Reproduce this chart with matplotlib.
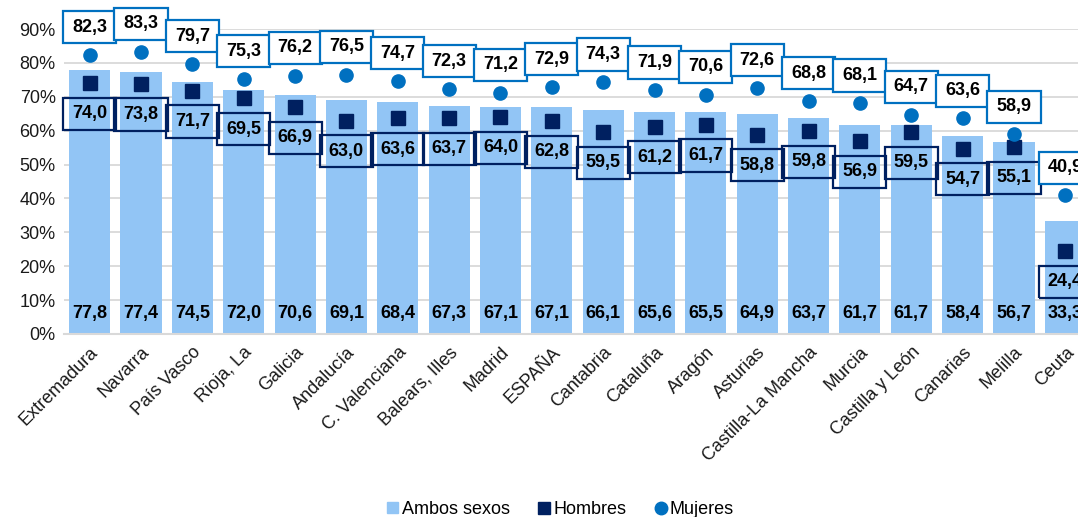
import matplotlib
matplotlib.use("Agg")
import matplotlib.pyplot as plt
from matplotlib.lines import Line2D
from matplotlib.patches import Patch
from matplotlib.path import Path
from matplotlib.ticker import FuncFormatter

plt.rcParams['font.family'] = ['Liberation Sans', 'DejaVu Sans']

categories = ["Extremadura", "Navarra", "País Vasco", "Rioja, La", "Galicia", "Andalucía",
              "C. Valenciana", "Balears, Illes", "Madrid", "ESPAÑA", "Cantabria", "Cataluña",
              "Aragón", "Asturias", "Castilla-La Mancha", "Murcia", "Castilla y León",
              "Canarias", "Melilla", "Ceuta"]
ambos = [77.8, 77.4, 74.5, 72.0, 70.6, 69.1, 68.4, 67.3, 67.1, 67.1, 66.1, 65.6, 65.5, 64.9,
         63.7, 61.7, 61.7, 58.4, 56.7, 33.3]
hombres = [74.0, 73.8, 71.7, 69.5, 66.9, 63.0, 63.6, 63.7, 64.0, 62.8, 59.5, 61.2, 61.7, 58.8,
           59.8, 56.9, 59.5, 54.7, 55.1, 24.4]
mujeres = [82.3, 83.3, 79.7, 75.3, 76.2, 76.5, 74.7, 72.3, 71.2, 72.9, 74.3, 71.9, 70.6, 72.6,
           68.8, 68.1, 64.7, 63.6, 58.9, 40.9]
yticks = [0, 10, 20, 30, 40, 50, 60, 70, 80, 90]

c_bar = "#92C5F5"
c_h = "#002060"
c_m = "#0070C0"


def wide_box(x0, y0, width, height, mutation_size):
    px = 0.50 * mutation_size
    py = 0.42 * mutation_size
    x0, y0 = x0 - px, y0 - py
    x1, y1 = x0 + width + 2 * px, y0 + height + 2 * py
    return Path([(x0, y0), (x1, y0), (x1, y1), (x0, y1), (x0, y0)], closed=True)


fig = plt.figure(figsize=(10.78, 5.17), dpi=100)
ax = fig.add_axes([64/1078, 1-334/517, 1027/1078, 305/517])
x = list(range(len(categories)))

ax.bar(x, ambos, width=0.8, color=c_bar, zorder=2)
ax.plot(x, hombres, linestyle="none", marker="s", ms=9.5, color=c_h, zorder=3)
ax.plot(x, mujeres, linestyle="none", marker="o", ms=9.5, color=c_m, zorder=3)

fmt = lambda v: f"{v:.1f}".replace(".", ",")
for i in x:
    ax.annotate(fmt(ambos[i]), (i, 0), xytext=(0, 14.5), textcoords="offset points",
                ha="center", va="center", fontsize=13, fontweight="bold", color="black",
                zorder=5, annotation_clip=False)
    ax.annotate(fmt(hombres[i]), (i, hombres[i]), xytext=(0, -22), textcoords="offset points",
                ha="center", va="center", fontsize=13, fontweight="bold", color="black",
                bbox=dict(boxstyle=wide_box, fc="none", ec=c_h, lw=1.6),
                zorder=5, annotation_clip=False)
    ax.annotate(fmt(mujeres[i]), (i, mujeres[i]), xytext=(0, 20), textcoords="offset points",
                ha="center", va="center", fontsize=13, fontweight="bold", color="black",
                bbox=dict(boxstyle=wide_box, fc="white", ec=c_m, lw=1.6),
                zorder=5, annotation_clip=False)

ax.set_xlim(-0.5, len(categories) - 0.5)
ax.set_ylim(0, 90)
ax.set_yticks(yticks)
ax.yaxis.set_major_formatter(FuncFormatter(lambda v, p: f"{int(v)}%"))
ax.set_xticks(x)
ax.set_xticklabels(categories, rotation=45, ha="right", rotation_mode="anchor", fontsize=13)
ax.tick_params(axis="both", length=0, labelsize=13, colors="#1a1a1a")
ax.tick_params(axis="x", pad=7)
ax.tick_params(axis="y", pad=6)
ax.grid(axis="y", color="#D9D9D9", lw=1.3, zorder=0)
ax.set_axisbelow(True)
for s in ["top", "right", "left"]:
    ax.spines[s].set_visible(False)
ax.spines["bottom"].set_color("#D9D9D9")
ax.spines["bottom"].set_linewidth(1.5)

handles = [Patch(color=c_bar),
           Line2D([], [], linestyle="none", marker="s", ms=9, color=c_h),
           Line2D([], [], linestyle="none", marker="o", ms=9, color=c_m)]
fig.legend(handles, ["Ambos sexos", "Hombres", "Mujeres"], loc="lower center",
           bbox_to_anchor=(0.52, -0.033), ncol=3, frameon=False, fontsize=13,
           handlelength=0.6, handleheight=0.6, handletextpad=0.2, columnspacing=1.6)

fig.savefig("out.png", dpi=100)
